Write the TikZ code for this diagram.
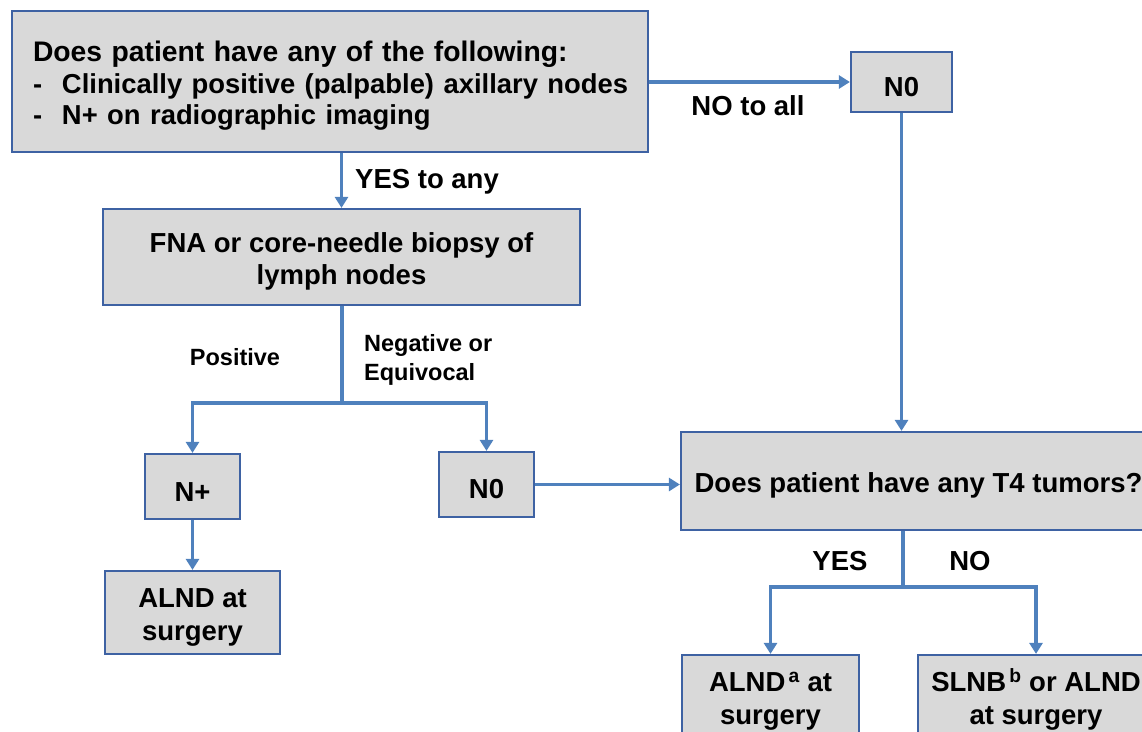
\documentclass[tikz,border=0pt]{standalone}
\usepackage{fontspec}
\setmainfont{Liberation Sans}
\usetikzlibrary{arrows.meta,calc}
\definecolor{boxfill}{RGB}{217,217,217}
\definecolor{boxline}{RGB}{62,98,163}
\definecolor{conn}{RGB}{79,129,189}
\newcommand{\upstrut}{\rule{0pt}{29pt}}
\tikzset{
  box/.style={draw=boxline, line width=2.2pt, fill=boxfill, inner sep=0pt, align=center,
    font=\fontsize{27.5}{32.5}\selectfont\bfseries},
  link/.style={draw=conn, line width=3.3pt},
  arr/.style={link, -{Triangle[length=11pt,width=13pt]}},
  lbl/.style={inner sep=0pt, font=\fontsize{27.5}{32.5}\selectfont\bfseries},
  slbl/.style={inner sep=0pt, align=left, font=\fontsize{23.5}{29}\selectfont\bfseries},
}
\begin{document}
\begin{tikzpicture}[x=1pt,y=-1pt]
\useasboundingbox (0,0) rectangle (1142,731);
\begin{scope}
\clip (0,0) rectangle (1142,731);
\node[box, minimum width=636pt, minimum height=141pt, text width=594pt, align=left, font=\fontsize{28.3}{31.5}\selectfont\bfseries] (top) at (330,81.5)
  {\upstrut Does patient have any of the following:\\
   \mbox{\fontsize{27.4}{31.5}\selectfont\makebox[29pt][l]{-}Clinically positive (palpable) axillary nodes}\\
   \mbox{\fontsize{27.4}{31.5}\selectfont\makebox[29pt][l]{-}N+ on radiographic imaging}};
\node[box, minimum width=101pt, minimum height=60pt] (n0a) at (901.5,82) {\upstrut N0};
\node[box, minimum width=477pt, minimum height=96pt] (fna) at (341.5,257) {\upstrut FNA or core-needle biopsy of\\lymph nodes};
\node[box, minimum width=95pt, minimum height=65pt] (nplus) at (192.5,486.5) {\upstrut N+};
\node[box, minimum width=175pt, minimum height=83pt] (alnd) at (192.5,612.5) {\upstrut ALND at\\surgery};
\node[box, minimum width=95pt, minimum height=65pt] (n0b) at (486.5,484.5) {\upstrut N0};
\node[box, minimum width=475pt, minimum height=98pt] (t4) at (918.5,481) {\upstrut Does patient have any T4 tumors?};
\node[box, minimum width=177pt, minimum height=83pt] (alnda) at (770.5,696.5) {\upstrut ALND\textsuperscript{\,a} at\\surgery};
\node[box, minimum width=236pt, minimum height=83pt] (slnb) at (1036,696.5) {\upstrut SLNB\textsuperscript{\,b} or ALND\\at surgery};
\end{scope}

\coordinate (s1) at (342,403);
\coordinate (s2) at (903,587);

\draw[arr] (top.east |- n0a.west) -- (n0a.west);
\draw[arr] (fna.north |- top.south) -- (fna.north);
\draw[link] (fna.south -| s1) -- (s1);
\draw[arr] (s1) -| (nplus.north);
\draw[arr] (s1) -| (n0b.north);
\draw[arr] (nplus.south) -- (alnd.north);
\draw[arr] (n0b.east) -- (n0b.east -| t4.west);
\draw[arr] (n0a.south) -- (n0a.south |- t4.north);
\draw[link] (t4.south -| s2) -- (s2);
\draw[arr] (s2) -| (alnda.north);
\draw[arr] (s2) -| (slnb.north);

\node[lbl] (l1) at (748,106) {NO to all};
\node[lbl, anchor=west] (l2) at (355,182) {YES to any};
\node[slbl] (l3) at (235,357) {Positive};
\node[slbl, anchor=west] (l4) at (364,359.5) {Negative or\\Equivocal};
\node[lbl] (l5) at (840,561) {YES};
\node[lbl] (l6) at (970,561) {NO};
\end{tikzpicture}
\end{document}
